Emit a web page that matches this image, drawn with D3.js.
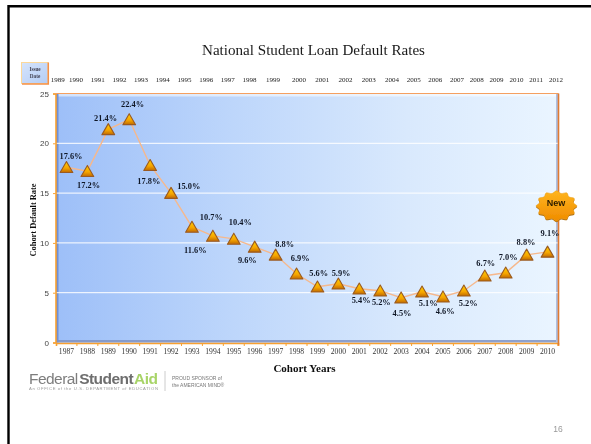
<!DOCTYPE html>
<html>
<head>
<meta charset="utf-8">
<title>National Student Loan Default Rates</title>
<script src="https://cdn.jsdelivr.net/npm/d3@7"></script>
<style>
  html, body { margin: 0; padding: 0; background: #fff; }
  svg { display: block; }
</style>
</head>
<body>
<svg id="chart" width="591" height="444"></svg>
<script>
const cohortYears = ['1987', '1988', '1989', '1990', '1991', '1992', '1993', '1994', '1995', '1996', '1997', '1998',
  '1999', '2000', '2001', '2002', '2003', '2004', '2005', '2006', '2007', '2008', '2009', '2010']
const defaultRates = [17.6, 17.2, 21.4, 22.4, 17.8, 15.0, 11.6, 10.7, 10.4, 9.6, 8.8, 6.9,
  5.6, 5.9, 5.4, 5.2, 4.5, 5.1, 4.6, 5.2, 6.7, 7.0, 8.8, 9.1]
const issueYears = [1989, 1990, 1991, 1992, 1993, 1994, 1995, 1996, 1997, 1998, 1999, 2000,
  2001, 2002, 2003, 2004, 2005, 2006, 2007, 2008, 2009, 2010, 2011, 2012]
const yTicks = [0, 5, 10, 15, 20, 25]

// hand placed value labels, same order as the rates
const labelDx = [4.5, 1.2, -2.7, 3.3, -1.3, 17.7, 3.4, -1.5, 6.5, -7.4, 9, 3.7,
  1.3, 2.7, 1.8, 1.1, 0.9, 6.2, 2.2, 4.3, 1, 2.4, -0.6, 2.5]
const labelDy = [-11.5, 14, -11.4, -14.7, 16, -7.4, 23, -18.3, -17, 13, -11, -15.8,
  -14, -11, 11.3, 11, 15.3, 11.3, 14.3, 12, -12.8, -16, -13, -19]

const plot = { left: 56, right: 558, top: 93.5, bottom: 342.5 }
const serif = '"Liberation Serif", serif'
const sans = '"Liberation Sans", sans-serif'

const x = d3.scaleBand().domain(cohortYears).range([plot.left, plot.right])
const y = d3.scaleLinear().domain([0, 25]).range([plot.bottom, plot.top])

// the issue date row is not evenly spaced in the original slide
const issueX = d3.scaleLinear()
  .domain([1989, 1990, 1998, 1999, 2000, 2004, 2007, 2012])
  .range([57.7, 76, 249.5, 273, 299, 392, 457, 556])

const svg = d3.select('#chart')
const defs = svg.append('defs')

const soften = defs.append('filter')
  .attr('id', 'soften')
  .attr('filterUnits', 'userSpaceOnUse')
  .attr('x', 0).attr('y', 0).attr('width', 591).attr('height', 444)
soften.append('feGaussianBlur').attr('stdDeviation', 0.35)

function gradient (id, stops, attrs) {
  const g = defs.append('linearGradient').attr('id', id)
  Object.entries(attrs).forEach(d => g.attr(d[0], d[1]))
  stops.forEach(s => g.append('stop').attr('offset', s[0]).attr('stop-color', s[1]))
}

gradient('plotBg', [[0, '#9dbff8'], [0.35, '#bdd6fb'], [0.7, '#d9e9fd'], [1, '#eaf5ff']], { x1: 0, x2: 1, y1: 0, y2: 0 })
gradient('marker', [[0, '#ffd400'], [0.6, '#f5a400'], [1, '#c06a00']], { x1: 0, x2: 0, y1: 0, y2: 1 })
gradient('issueBg', [[0, '#d6e4fb'], [1, '#b4cdf6']], { x1: 0, x2: 1, y1: 0, y2: 1 })
gradient('badge', [[0, '#ffb51e'], [1, '#f08c00']], { x1: 0, x2: 0, y1: 0, y2: 1 })

const root = svg.append('g').attr('filter', 'url(#soften)')

// slide frame
root.append('path')
  .attr('d', 'M8.5,444V6.3H591')
  .attr('fill', 'none')
  .attr('stroke', '#000')
  .attr('stroke-width', 2.4)

root.append('text')
  .attr('x', 313.5)
  .attr('y', 55)
  .attr('text-anchor', 'middle')
  .attr('font-family', serif)
  .attr('font-size', 15.1)
  .attr('fill', '#1a1a1a')
  .text('National Student Loan Default Rates')

// plot background and bevels
const w = plot.right - plot.left
const h = plot.bottom - plot.top
root.append('rect')
  .attr('x', plot.left).attr('y', plot.top)
  .attr('width', w).attr('height', h)
  .attr('fill', 'url(#plotBg)')
root.append('rect')
  .attr('x', plot.left).attr('y', plot.top)
  .attr('width', w).attr('height', 3)
  .attr('fill', '#fff').attr('opacity', 0.55)
root.append('rect')
  .attr('x', plot.left).attr('y', plot.top)
  .attr('width', 2.5).attr('height', h)
  .attr('fill', '#6f8fd6')
root.append('rect')
  .attr('x', plot.left).attr('y', plot.bottom - 2.5)
  .attr('width', w).attr('height', 2.5)
  .attr('fill', '#7f93c4').attr('opacity', 0.85)
root.append('rect')
  .attr('x', plot.right - 2).attr('y', plot.top)
  .attr('width', 2).attr('height', h)
  .attr('fill', '#aebfe0')

root.append('g')
  .selectAll('line')
  .data(yTicks.filter(d => d > 0 && d < 25))
  .join('line')
  .attr('x1', plot.left).attr('x2', plot.right)
  .attr('y1', d => y(d)).attr('y2', d => y(d))
  .attr('stroke', '#fff')
  .attr('stroke-width', 1)

// axes
const yAxis = root.append('g')
  .attr('transform', `translate(${plot.left - 0.5},0)`)
  .call(d3.axisLeft(y).tickValues(yTicks).tickSize(2.5).tickPadding(4))
yAxis.select('.domain').attr('stroke', '#f7a030').attr('stroke-width', 1.6)
yAxis.selectAll('.tick line').attr('stroke', '#f7a030')
yAxis.selectAll('text')
  .attr('font-family', sans)
  .attr('font-size', 8)
  .attr('fill', '#444')

const xAxis = root.append('g')
  .attr('transform', `translate(0,${plot.bottom + 0.5})`)
  .call(d3.axisBottom(x).tickSize(3).tickPadding(3))
xAxis.select('.domain').attr('stroke', '#f7a030').attr('stroke-width', 1.6)
xAxis.selectAll('.tick line')
  .attr('stroke', '#f7a030')
  .attr('transform', `translate(${x.step() / 2},0)`)
xAxis.selectAll('text')
  .attr('font-family', serif)
  .attr('font-size', 7.6)
  .attr('fill', '#333')

// top and right plot border
root.append('path')
  .attr('d', `M${plot.left - 1},${plot.top}H${plot.right + 0.5}`)
  .attr('stroke', '#f5a060').attr('stroke-width', 1.2).attr('fill', 'none')
root.append('path')
  .attr('d', `M${plot.right + 0.5},${plot.top}V${plot.bottom + 3}`)
  .attr('stroke', '#e07a30').attr('stroke-width', 1.6).attr('fill', 'none')

// axis titles
root.append('text')
  .attr('transform', 'translate(35.5,220) rotate(-90)')
  .attr('text-anchor', 'middle')
  .attr('font-family', serif)
  .attr('font-weight', 'bold')
  .attr('font-size', 8.4)
  .attr('fill', '#111')
  .text('Cohort Default Rate')

root.append('text')
  .attr('x', 304.5)
  .attr('y', 371.5)
  .attr('text-anchor', 'middle')
  .attr('font-family', serif)
  .attr('font-weight', 'bold')
  .attr('font-size', 11)
  .attr('fill', '#111')
  .text('Cohort Years')

// issue date row
root.append('g')
  .selectAll('text')
  .data(issueYears)
  .join('text')
  .attr('x', d => issueX(d))
  .attr('y', 82)
  .attr('text-anchor', 'middle')
  .attr('font-family', serif)
  .attr('font-size', 7)
  .attr('fill', '#222')
  .text(d => d)

root.append('rect')
  .attr('x', 21.5).attr('y', 62.5)
  .attr('width', 26.5).attr('height', 21)
  .attr('fill', 'url(#issueBg)')
  .attr('stroke', '#fbd89a')
  .attr('stroke-width', 1)
root.append('path')
  .attr('d', 'M48.3,62.5V84H22')
  .attr('fill', 'none')
  .attr('stroke', '#f4904a')
  .attr('stroke-width', 1.5)
root.append('g')
  .selectAll('text')
  .data(['Issue', 'Date'])
  .join('text')
  .attr('x', 35)
  .attr('y', (d, i) => 70.5 + i * 7)
  .attr('text-anchor', 'middle')
  .attr('font-family', serif)
  .attr('font-weight', 'bold')
  .attr('font-size', 5.2)
  .attr('fill', '#445')
  .text(d => d)

// series
const cx = i => x(cohortYears[i]) + x.bandwidth() / 2

const line = d3.line()
  .x((d, i) => cx(i))
  .y(d => y(d))

root.append('path')
  .datum(defaultRates)
  .attr('d', line)
  .attr('fill', 'none')
  .attr('stroke', '#f6b88c')
  .attr('stroke-width', 1.4)

// symbolTriangle sits on its centroid, nudge it so the box centres on the value
root.append('g')
  .selectAll('path')
  .data(defaultRates)
  .join('path')
  .attr('d', d3.symbol(d3.symbolTriangle, 70))
  .attr('transform', (d, i) => `translate(${cx(i)},${y(d) + 1.6})`)
  .attr('fill', 'url(#marker)')
  .attr('stroke', '#9a5a20')
  .attr('stroke-width', 1.1)
  .attr('stroke-linejoin', 'round')

root.append('g')
  .selectAll('text')
  .data(defaultRates)
  .join('text')
  .attr('x', (d, i) => cx(i) + labelDx[i])
  .attr('y', (d, i) => y(d) + labelDy[i] + 2.8)
  .attr('text-anchor', 'middle')
  .attr('font-family', serif)
  .attr('font-weight', 'bold')
  .attr('font-size', 8.4)
  .attr('fill', '#111827')
  .text(d => d.toFixed(1) + '%')

// "New" starburst
const burst = d3.lineRadial()
  .curve(d3.curveCatmullRomClosed)
  .angle((d, i) => i * Math.PI / 12)
  .radius((d, i) => i % 2 ? 17.5 : 20.5)

const badge = root.append('g').attr('transform', 'translate(556.5,206) scale(1,0.74)')
badge.append('path')
  .attr('d', burst(d3.range(24)))
  .attr('transform', 'translate(0,1.5)')
  .attr('fill', '#a8660a')
badge.append('path')
  .attr('d', burst(d3.range(24)))
  .attr('fill', 'url(#badge)')
  .attr('stroke', '#e8a020')
  .attr('stroke-width', 0.6)
root.append('text')
  .attr('x', 556)
  .attr('y', 206)
  .attr('text-anchor', 'middle')
  .attr('font-family', sans)
  .attr('font-weight', 'bold')
  .attr('font-size', 9)
  .attr('fill', '#2a1c00')
  .text('New')

// logo
const logo = root.append('text')
  .attr('x', 29)
  .attr('y', 383.5)
  .attr('font-family', sans)
  .attr('font-size', 15.5)
  .attr('letter-spacing', -0.55)
logo.append('tspan').attr('fill', '#7d7d7d').text('Federal')
logo.append('tspan').attr('fill', '#6e6e6e').attr('font-weight', 'bold').attr('dx', 1.5).text('Student')
logo.append('tspan').attr('fill', '#a8d468').attr('font-weight', 'bold').attr('dx', 1).text('Aid')

root.append('text')
  .attr('x', 29)
  .attr('y', 390)
  .attr('textLength', 129)
  .attr('font-family', sans)
  .attr('font-size', 4.2)
  .attr('fill', '#999')
  .text('An OFFICE of the U.S. DEPARTMENT of EDUCATION')

root.append('line')
  .attr('x1', 165).attr('x2', 165)
  .attr('y1', 371).attr('y2', 391)
  .attr('stroke', '#ccc')

root.append('g')
  .selectAll('text')
  .data(['PROUD SPONSOR of', 'the AMERICAN MIND\u00ae'])
  .join('text')
  .attr('x', 172)
  .attr('y', (d, i) => 379.5 + i * 7)
  .attr('font-family', sans)
  .attr('font-size', 5)
  .attr('fill', '#777')
  .text(d => d)

// slide number
root.append('text')
  .attr('x', 558)
  .attr('y', 432)
  .attr('text-anchor', 'middle')
  .attr('font-family', sans)
  .attr('font-size', 8.5)
  .attr('fill', '#999')
  .text('16')
</script>
</body>
</html>
